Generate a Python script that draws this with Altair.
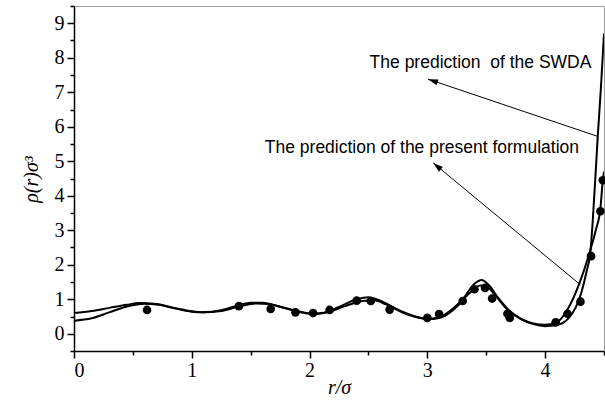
import math
import altair as alt
import pandas as pd

# Density profile rho(r)*sigma^3 versus r/sigma
r_swda = [0.0, 0.15, 0.3, 0.45, 0.55, 0.7, 0.85, 1.0, 1.1, 1.25, 1.4, 1.5, 1.6, 1.75,
          1.9, 2.0, 2.1, 2.25, 2.4, 2.5, 2.6, 2.75, 2.9, 3.0, 3.1, 3.2, 3.3, 3.4,
          3.46, 3.52, 3.6, 3.7, 3.8, 3.9, 4.0, 4.1, 4.2, 4.307, 4.349, 4.386,
          4.405, 4.447, 4.475, 4.5]
rho_swda = [0.60, 0.66, 0.75, 0.84, 0.89, 0.86, 0.74, 0.64, 0.62, 0.68, 0.83, 0.90,
            0.90, 0.78, 0.64, 0.58, 0.60, 0.78, 1.00, 1.06, 0.96, 0.70, 0.50, 0.43,
            0.48, 0.68, 1.00, 1.45, 1.56, 1.42, 1.05, 0.66, 0.42, 0.28, 0.22, 0.25,
            0.45, 1.18, 1.76, 2.43, 3.30, 5.72, 7.20, 8.70]

r_present = [0.0, 0.15, 0.3, 0.45, 0.6, 0.72, 0.85, 1.0, 1.1, 1.25, 1.4, 1.55, 1.65,
             1.8, 1.95, 2.05, 2.15, 2.3, 2.45, 2.55, 2.65, 2.8, 2.95, 3.05, 3.15,
             3.25, 3.35, 3.45, 3.5, 3.58, 3.68, 3.8, 3.9, 4.0, 4.1, 4.19, 4.29,
             4.386, 4.43, 4.47, 4.49, 4.5]
rho_present = [0.38, 0.45, 0.62, 0.79, 0.87, 0.84, 0.75, 0.65, 0.62, 0.66, 0.79, 0.88,
               0.86, 0.74, 0.62, 0.57, 0.62, 0.80, 0.95, 0.97, 0.85, 0.60, 0.45, 0.43,
               0.52, 0.78, 1.15, 1.40, 1.38, 1.10, 0.70, 0.42, 0.30, 0.26, 0.33, 0.70,
               1.45, 2.45, 3.00, 3.65, 4.45, 4.70]

# Simulation points
r_sim = [0.62, 1.40, 1.67, 1.88, 2.03, 2.17, 2.40, 2.52, 2.68, 3.00, 3.10, 3.30,
         3.40, 3.49, 3.55, 3.68, 3.70, 4.09, 4.19, 4.30, 4.39, 4.47, 4.49]
rho_sim = [0.69, 0.80, 0.72, 0.62, 0.60, 0.69, 0.96, 0.95, 0.70, 0.46, 0.57, 0.95,
           1.29, 1.33, 1.02, 0.58, 0.46, 0.33, 0.58, 0.93, 2.25, 3.55, 4.45]

# Annotation texts and arrows (tail on curve -> head near text)
labels = ["The prediction\u00a0 of the SWDA", "The prediction of the present formulation"]
label_r = [2.51, 1.62]
label_rho = [7.86, 5.39]
arrow_tail_r = [4.447, 4.30]
arrow_tail_rho = [5.72, 1.42]
arrow_head_r = [3.006, 3.05]
arrow_head_rho = [7.38, 4.95]

x_ticks = [i * 0.5 for i in range(10)]
y_ticks = [-0.5 + i * 0.5 for i in range(21)]

W, H = 530, 345
X_DOM = [0, 4.5]
Y_DOM = [-0.5, 9.5]

major = "datum.value % 1 === 0"
major_label = f"{major} ? datum.value : ''"
# minor ticks: dash pattern keeps only the part next to the axis line
tick_dash = {"condition": {"test": major, "value": [10, 0]}, "value": [4, 20]}

x_enc = alt.X(
    "r:Q",
    scale=alt.Scale(domain=X_DOM, nice=False, zero=False),
    axis=alt.Axis(
        values=x_ticks, labelExpr=major_label,
        tickSize=7, tickDash=tick_dash, labelPadding=2, labelOverlap=False,
        title="r/σ", titleY=36, titleBaseline="middle",
    ),
)
y_enc = alt.Y(
    "rho:Q",
    scale=alt.Scale(domain=Y_DOM, nice=False, zero=False),
    axis=alt.Axis(
        values=y_ticks, labelExpr=major_label,
        tickSize=7, tickDash=tick_dash, labelPadding=3, labelOverlap=False,
        title="ρ(r)σ³", titleAngle=270, titleX=-43, titleY=173,
        titleAlign="center", titleBaseline="middle",
    ),
)

curves = pd.concat([
    pd.DataFrame({"r": r_swda, "rho": rho_swda, "model": "SWDA"}),
    pd.DataFrame({"r": r_present, "rho": rho_present, "model": "present"}),
])
sim = pd.DataFrame({"r": r_sim, "rho": rho_sim})
notes = pd.DataFrame({"r": label_r, "rho": label_rho, "label": labels})

# Arrowhead orientation in screen space
px_per_r = W / (X_DOM[1] - X_DOM[0])
px_per_rho = H / (Y_DOM[1] - Y_DOM[0])
angles = []
for tr, ty, hr, hy in zip(arrow_tail_r, arrow_tail_rho, arrow_head_r, arrow_head_rho):
    dx = (hr - tr) * px_per_r
    dy = -(hy - ty) * px_per_rho
    angles.append(math.degrees(math.atan2(dx, -dy)) % 360)
arrows = pd.DataFrame({
    "r": arrow_tail_r, "rho": arrow_tail_rho,
    "r2": arrow_head_r, "rho2": arrow_head_rho,
})
heads = pd.DataFrame({"r": arrow_head_r, "rho": arrow_head_rho, "angle": angles})

lines = alt.Chart(curves).mark_line(
    color="black", strokeWidth=2, interpolate="monotone", clip=True
).encode(x=x_enc, y=y_enc, detail="model:N")

points = alt.Chart(sim).mark_circle(color="black", size=75, opacity=1).encode(x=x_enc, y=y_enc)

arrow_lines = alt.Chart(arrows).mark_rule(color="black", strokeWidth=1).encode(
    x=x_enc, y=y_enc, x2="r2:Q", y2="rho2:Q"
)

arrow_heads = alt.Chart(heads).mark_point(
    shape="M0,0L-0.6,2L0.6,2Z", filled=True, size=100, color="black",
    strokeWidth=0, opacity=1,
).encode(x=x_enc, y=y_enc, angle=alt.Angle("angle:Q", scale=None))

texts = alt.Chart(notes).mark_text(
    align="left", baseline="middle", font="Liberation Sans", fontSize=17.5, color="black"
).encode(x=x_enc, y=y_enc, text="label:N")

chart = (
    alt.layer(lines, points, arrow_lines, arrow_heads, texts)
    .properties(
        width=W, height=H,
        padding={"left": 74, "top": 6, "right": 1, "bottom": 61},
        autosize=alt.AutoSizeParams(type="none"),
        background="white",
    )
    .configure_view(stroke="#9a9a9a", strokeWidth=1)
    .configure_axis(
        grid=False, domainColor="black", domainWidth=1.5, tickColor="black",
        tickWidth=1.5, labelFont="Liberation Serif", labelFontSize=20,
        labelColor="black", titleFont="Liberation Serif", titleFontSize=20,
        titleFontStyle="italic", titleFontWeight="normal", titleColor="black",
    )
)

chart.save("out.html", embed_options={"renderer": "svg", "actions": False})
